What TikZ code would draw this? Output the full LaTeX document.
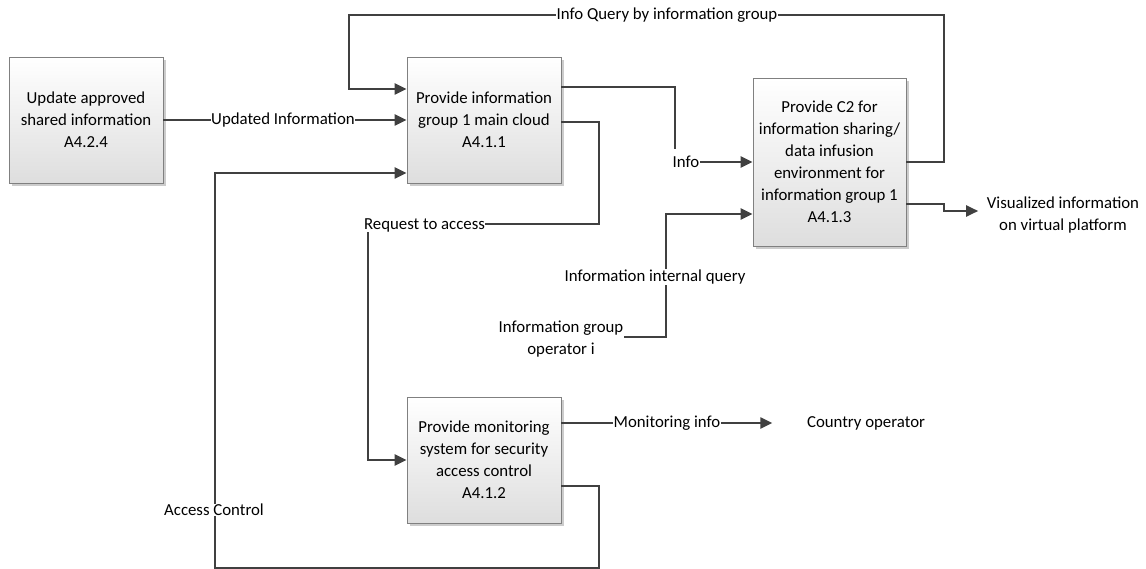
\documentclass[tikz,border=0pt]{standalone}
\usepackage{fontspec}
\setmainfont{Carlito}
\usetikzlibrary{arrows.meta,shadows}
\begin{document}
\begin{tikzpicture}[x=1pt,y=-1pt,
  every node/.style={font=\fontsize{16.8}{22}\selectfont},
  box/.style={draw=black!50, line width=0.8pt, top color=white, bottom color=black!13,
    minimum width=154pt, minimum height=126pt, align=center, inner sep=2pt,
    drop shadow={shadow xshift=3pt, shadow yshift=-3pt, fill=black!20, opacity=1}},
  flow/.style={draw=black!75, line width=2.2pt},
  arr/.style={flow, -{Triangle[length=12pt,width=11pt]}},
  lab/.style={fill=white, inner sep=0.5pt},
  txt/.style={inner sep=0.5pt, align=center}]
\useasboundingbox (0,0) rectangle (1146,569);
% boxes
\node[box] (b424) at (86,120) {Update approved\\shared information\\A4.2.4};
\node[box] (b411) at (484,120) {Provide information\\group 1 main cloud\\A4.1.1};
\node[box, minimum width=153pt, minimum height=168pt] (b413) at (829.5,162)
  {Provide C2 for\\information sharing/\\data infusion\\environment for\\information group 1\\A4.1.3};
\node[box] (b412) at (484,460) {Provide monitoring\\system for security\\access control\\A4.1.2};
% endpoint texts
\node[txt, inner ysep=7pt] (lInfo) at (686,162) {Info};
\node[txt] (lop) at (561,339) {Information group\\operator i};
\node[txt] (lvis) at (1063,215) {Visualized information\\on virtual platform};
\node[txt] (lcountry) at (866,423) {Country operator};
% bend coordinates
\coordinate (qR) at (944,15);
\coordinate (qL) at (349,15);
\coordinate (aq) at (0,89);
\coordinate (yac) at (0,486);
\coordinate (ac1) at (599,568);
\coordinate (ac2) at (215,173);
\coordinate (yrq) at (0,122);
\coordinate (rq1) at (599,224);
\coordinate (rq2) at (368,224);
\coordinate (yinfo) at (0,87);
\coordinate (xinfo) at (675,0);
\coordinate (iq1) at (666,337);
\coordinate (yiq) at (0,214);
\coordinate (v1) at (944,204);
\coordinate (v2) at (944,211);
\coordinate (ym) at (0,423);
% connectors
\draw[arr] (b413.east) -| (qR) -- (qL) |- (b411.west |- aq);
\draw[arr] (b424.east) -- (b411.west);
\draw[arr] (b412.east |- yac) -| (ac1) -| (ac2) -- (b411.west |- ac2);
\draw[arr] (b411.east |- yrq) -| (rq1) -- (rq2) |- (b412.west);
\draw[flow] (b411.east |- yinfo) -| (xinfo |- lInfo.north);
\draw[arr] (lInfo.east) -- (b413.west);
\draw[arr] (lop.east |- iq1) -- (iq1) |- (b413.west |- yiq);
\draw[arr, shorten >=8pt] (b413.east |- v1) -- (v1) -- (v2) -- (lvis.west |- v2);
\draw[arr, shorten >=34pt] (b412.east |- ym) -- (lcountry.west);
% labels on connectors
\node[lab] (lupd) at (283,120) {Updated Information};
\node[lab] (lquery) at (667,15) {Info Query by information group};
\node[lab] (lacc) at (214,510) {Access Control};
\node[lab] (lreq) at (424.5,225) {Request to access};
\node[lab] (liq) at (655,277) {Information internal query};
\node[lab] (lmon) at (667,423) {Monitoring info};
\end{tikzpicture}
\end{document}
